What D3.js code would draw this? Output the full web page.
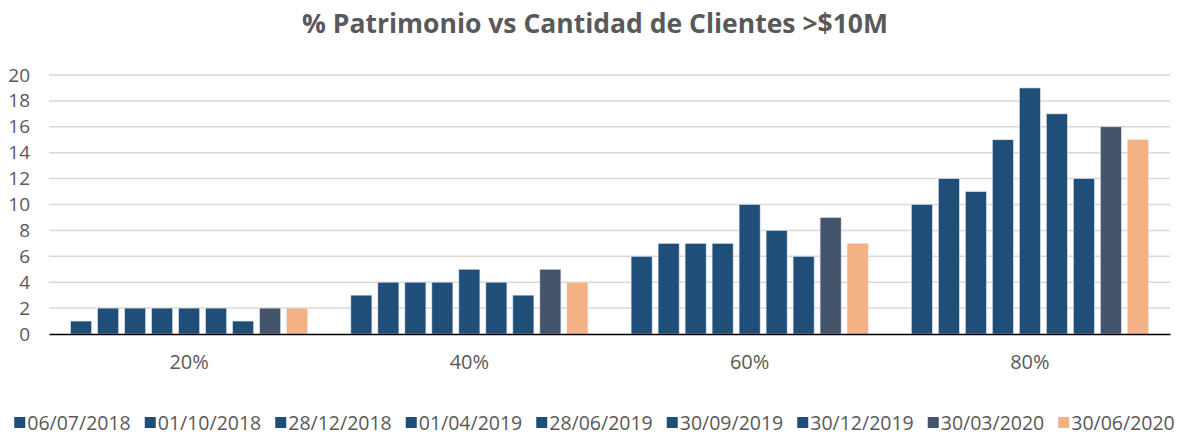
<!DOCTYPE html>
<html>
<head>
<meta charset="utf-8">
<script src="https://cdn.jsdelivr.net/npm/d3@7"></script>
<style>
  body { margin: 0; background: #fff; }
  #chart { width: 1189px; height: 436px; }
  text { font-family: "Open Sans", Lato, sans-serif; fill: #595959; }
</style>
</head>
<body>
<div id="chart"></div>
<script>
// Chart data
const categories = ["20%", "40%", "60%", "80%"];
const seriesNames = ["06/07/2018", "01/10/2018", "28/12/2018", "01/04/2019", "28/06/2019",
                     "30/09/2019", "30/12/2019", "30/03/2020", "30/06/2020"];
const seriesColors = ["#1f4e79", "#1f4e79", "#1f4e79", "#1f4e79", "#1f4e79",
                      "#1f4e79", "#1f4e79", "#44546a", "#f4b183"];
// values per category, one entry per series
const values20 = [1, 2, 2, 2, 2, 2, 1, 2, 2];
const values40 = [3, 4, 4, 4, 5, 4, 3, 5, 4];
const values60 = [6, 7, 7, 7, 10, 8, 6, 9, 7];
const values80 = [10, 12, 11, 15, 19, 17, 12, 16, 15];
const yTicks = [0, 2, 4, 6, 8, 10, 12, 14, 16, 18, 20];

const rows = [values20, values40, values60, values80];

function createChart(containerSelector) {
    const W = 1189, H = 436;
    const margin = { top: 75, right: 19, bottom: 102, left: 49 },
          width = W - margin.left - margin.right,
          height = H - margin.top - margin.bottom;

    d3.select(containerSelector).select("svg").remove();

    const root = d3.select(containerSelector)
        .append("svg")
        .attr("width", W)
        .attr("height", H);

    // Title
    root.append("text")
        .attr("x", 595)
        .attr("y", 33)
        .attr("text-anchor", "middle")
        .attr("font-size", "26.5px")
        .attr("font-weight", "bold")
        .text("% Patrimonio vs Cantidad de Clientes >$10M");

    const svg = root.append("g")
        .attr("transform", `translate(${margin.left},${margin.top})`);

    const x0 = d3.scaleBand()
        .domain(categories)
        .range([0, width])
        .padding(0);

    const x1 = d3.scaleBand()
        .domain(d3.range(seriesNames.length))
        .range([0, x0.bandwidth()])
        .paddingInner(0.22)
        .paddingOuter(0.8);

    const y = d3.scaleLinear()
        .domain([0, 20])
        .range([height, 0]);

    // Gridlines
    svg.append("g")
        .selectAll("line")
        .data(yTicks.filter(d => d > 0))
        .enter()
        .append("line")
        .attr("x1", 0)
        .attr("x2", width)
        .attr("y1", d => y(d))
        .attr("y2", d => y(d))
        .attr("stroke", "#d9d9d9")
        .attr("stroke-width", 1.5);

    // Y axis labels
    const yAxis = svg.append("g")
        .call(d3.axisLeft(y).tickValues(yTicks).tickSize(0).tickPadding(19));
    yAxis.select(".domain").remove();
    yAxis.selectAll("text")
        .attr("font-size", "19px")
        .attr("fill", "#595959")
        .style("font-family", "'Open Sans', Lato, sans-serif");

    // Bars
    const groups = svg.selectAll(".grp")
        .data(categories)
        .enter()
        .append("g")
        .attr("class", "grp")
        .attr("transform", d => `translate(${x0(d)},0)`);

    groups.selectAll("rect")
        .data((d, i) => rows[i].map((v, j) => ({ v, j })))
        .enter()
        .append("rect")
        .attr("x", d => x1(d.j))
        .attr("y", d => y(d.v))
        .attr("width", x1.bandwidth())
        .attr("height", d => height - y(d.v))
        .attr("fill", d => seriesColors[d.j])
        .attr("stroke", "#dfe6ee")
        .attr("stroke-width", 0.6);

    // X axis
    const xAxis = svg.append("g")
        .attr("transform", `translate(0,${height})`)
        .call(d3.axisBottom(x0).tickSize(0).tickPadding(21));
    xAxis.select(".domain")
        .attr("stroke", "#000")
        .attr("stroke-width", 1.5);
    xAxis.selectAll("text")
        .attr("font-size", "20px")
        .attr("fill", "#595959")
        .style("font-family", "'Open Sans', Lato, sans-serif");

    // Legend
    const legend = root.append("g");
    const items = legend.selectAll(".item")
        .data(seriesNames)
        .enter()
        .append("g")
        .attr("class", "item");
    items.append("rect")
        .attr("y", -13)
        .attr("width", 11)
        .attr("height", 11)
        .attr("fill", (d, i) => seriesColors[i]);
    items.append("text")
        .attr("x", 13)
        .attr("y", 0)
        .attr("font-size", "19.5px")
        .text(d => d);

    let xpos = 0;
    const gap = 14;
    items.each(function() {
        const w = this.getBBox().width;
        d3.select(this).attr("transform", `translate(${xpos},0)`);
        xpos += w + gap;
    });
    const total = xpos - gap;
    legend.attr("transform", `translate(${(W - total) / 2}, 430)`);
}

createChart("#chart");
</script>
</body>
</html>
